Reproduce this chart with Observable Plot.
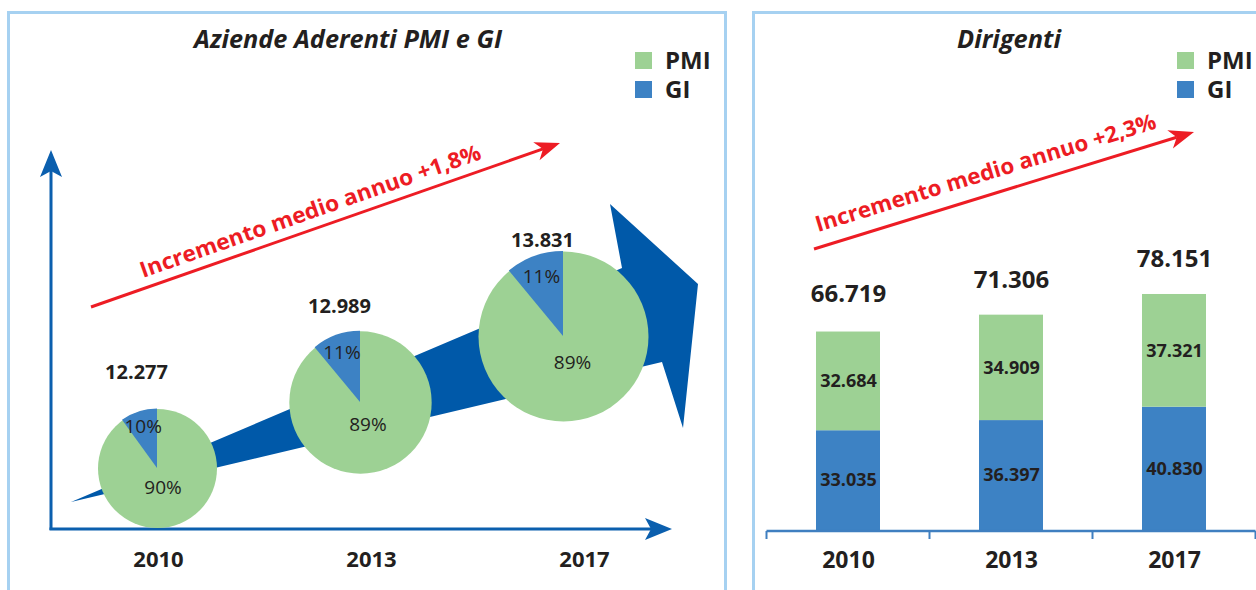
<!DOCTYPE html>
<html>
<head>
<meta charset="utf-8">
<script src="https://cdn.jsdelivr.net/npm/d3@7"></script>
<script src="https://cdn.jsdelivr.net/npm/@observablehq/plot@0.6"></script>
<style>
html, body { margin: 0; padding: 0; background: #fff; }
#wrap { position: relative; width: 1256px; height: 590px; overflow: hidden; background: #fff; }
#wrap svg { position: absolute; left: 0; top: 0; }
.frame { position: absolute; border: 3px solid #a6d1f1; box-sizing: border-box; }
</style>
</head>
<body>
<div id="wrap">
  <div class="frame" style="left:7px;top:11px;width:720px;height:620px;"></div>
  <div class="frame" style="left:752px;top:11px;width:620px;height:620px;"></div>
</div>
<script>
// ---------- DATA ----------
const years = ["2010", "2013", "2017"];
const aziendeTotale = [12277, 12989, 13831];
const aziendeQuotaGI = [10, 11, 11];
const aziendeQuotaPMI = [90, 89, 89];
const dirigentiGI = [33035, 36397, 40830];
const dirigentiPMI = [32684, 34909, 37321];
const dirigentiTotale = [66719, 71306, 78151];
const series = ["PMI", "GI"];
const seriesColors = ["#9dd194", "#3d82c4"];
const titoli = ["Aziende Aderenti PMI e GI", "Dirigenti"];
const incrementi = ["Incremento medio annuo +1,8%", "Incremento medio annuo +2,3%"];

// ---------- HELPERS ----------
const FONT = "'Open Sans','Noto Sans',sans-serif";
const INK = "#231f20";
const RED = "#ed1c24";
const W = 1256, H = 590;
const fmtIt = d3.formatLocale({decimal: ",", thousands: ".", grouping: [3], currency: ["€", ""]}).format(",d");
const wrap = document.getElementById("wrap");

function addText(g, txt, o) {
  const t = g.append("text")
    .attr("font-family", FONT)
    .attr("fill", o.fill || INK)
    .attr("font-size", o.size)
    .attr("font-weight", o.weight || "bold")
    .attr("text-anchor", o.anchor || "start")
    .text(txt);
  if (o.italic) t.attr("font-style", "italic");
  if (o.transform) t.attr("transform", o.transform); else t.attr("x", o.x).attr("y", o.y);
  if (o.length) t.attr("textLength", o.length).attr("lengthAdjust", "spacingAndGlyphs");
  return t;
}

function legend(g, x, y0) {
  series.forEach((s, i) => {
    const y = y0 + i * 29;
    g.append("rect").attr("x", x).attr("y", y).attr("width", 17).attr("height", 17).attr("fill", seriesColors[i]);
    addText(g, s, {x: x + 30, y: y + 17, size: 24});
  });
}

function redArrow(g, x1, y1, x2, y2, label, tr, len) {
  const a = Math.atan2(y2 - y1, x2 - x1);
  const ux = Math.cos(a), uy = Math.sin(a), px = -uy, py = ux;
  const bx = x2 - 25 * ux, by = y2 - 25 * uy;
  const nx = x2 - 18 * ux, ny = y2 - 18 * uy;
  g.append("line").attr("x1", x1).attr("y1", y1).attr("x2", nx).attr("y2", ny)
    .attr("stroke", RED).attr("stroke-width", 3);
  g.append("path").attr("fill", RED)
    .attr("d", `M${x2},${y2}L${bx + 9.5 * px},${by + 9.5 * py}L${nx},${ny}L${bx - 9.5 * px},${by - 9.5 * py}Z`);
  addText(g, label, {transform: tr, size: 22, fill: RED, length: len});
}

// ---------- LEFT PANEL: background (arrows, axis, labels) ----------
function decorLeft() {
  const g = d3.create("svg:g");
  addText(g, titoli[0], {x: 348, y: 48, size: 25, italic: true, anchor: "middle", length: 308});
  legend(g, 635, 52);
  // big growth arrow
  g.append("path").attr("fill", "#0059a9")
    .attr("d", "M71,502L622,268L610,204L698,284L683,428L662,362Z");
  // axes with arrowheads
  const AX = "#0b5fae";
  g.append("line").attr("x1", 51).attr("y1", 530).attr("x2", 51).attr("y2", 170).attr("stroke", AX).attr("stroke-width", 3);
  g.append("path").attr("fill", AX).attr("d", "M51,150L62,177L51,171L40,177Z");
  g.append("line").attr("x1", 49.5).attr("y1", 529).attr("x2", 652).attr("y2", 529).attr("stroke", AX).attr("stroke-width", 3);
  g.append("path").attr("fill", AX).attr("d", "M672,529L645,518L651,529L645,540Z");
  redArrow(g, 91, 307, 560, 143, incrementi[0], "translate(143,278) rotate(-19.35)", 360);
  return g.node();
}

const leftBack = Plot.plot({
  width: W, height: H, margin: 0, marginBottom: 24,
  style: {background: "transparent"},
  x: {type: "point", domain: years, range: [157, 584], padding: 0, axis: null},
  marks: [
    decorLeft,
    Plot.text(years, {x: d => d, frameAnchor: "bottom", lineAnchor: "bottom", text: d => d,
      fontSize: 22, fontWeight: "bold", fill: INK, fontFamily: FONT})
  ]
});
leftBack.style.background = "transparent";
wrap.appendChild(leftBack);

// ---------- LEFT PANEL: pies ----------
const pieData = years.map((y, i) => ({anno: y, totale: aziendeTotale[i], gi: aziendeQuotaGI[i], pmi: aziendeQuotaPMI[i]}));
const rFallback = d3.scaleLinear([12277, 13831], [59.5, 85]);

function pieSlices(index, scales) {
  const g = d3.create("svg:g");
  const rs = scales && scales.r ? scales.r : rFallback;
  for (const d of pieData) {
    const cx = scales.x(d.anno), cy = scales.y(d.anno), r = rs(d.totale);
    const a = d.gi / 100 * 2 * Math.PI;
    g.append("path")
      .attr("transform", `translate(${cx},${cy})`)
      .attr("fill", seriesColors[1])
      .attr("d", d3.arc()({innerRadius: 0, outerRadius: r, startAngle: -a, endAngle: 0}));
    const ag = -a / 2, rg = 0.75 * r;
    addText(g, d.gi + "%", {x: cx + rg * Math.sin(ag), y: cy - rg * Math.cos(ag) + 7, size: 19, weight: "normal", anchor: "middle"});
    const ap = Math.PI - a / 2, rp = 0.33 * r;
    addText(g, d.pmi + "%", {x: cx + rp * Math.sin(ap), y: cy - rp * Math.cos(ap) + 7, size: 19, weight: "normal", anchor: "middle"});
  }
  return g.node();
}

const leftPies = Plot.plot({
  width: W, height: H, margin: 0,
  style: {background: "transparent"},
  x: {type: "point", domain: years, range: [156.5, 562.5], padding: 0, axis: null},
  y: {type: "point", domain: years, range: [468, 336], padding: 0, axis: null},
  r: {type: "linear", domain: [12277, 13831], range: [59.5, 85]},
  marks: [
    Plot.dot(pieData, {x: "anno", y: "anno", r: "totale", fill: seriesColors[0]}),
    pieSlices,
    Plot.text(pieData, {x: "anno", y: "anno", text: d => fmtIt(d.totale), dx: -21, dy: -90,
      lineAnchor: "bottom", fontSize: 20, fontWeight: "bold", fill: INK, fontFamily: FONT})
  ]
});
leftPies.style.background = "transparent";
wrap.appendChild(leftPies);

// ---------- RIGHT PANEL: stacked bars ----------
const stackData = [];
years.forEach((y, i) => {
  stackData.push({anno: y, serie: "GI", valore: dirigentiGI[i]});
  stackData.push({anno: y, serie: "PMI", valore: dirigentiPMI[i]});
});
const totData = years.map((y, i) => ({anno: y, totale: dirigentiTotale[i]}));

function decorRight(index, scales) {
  const g = d3.create("svg:g");
  addText(g, titoli[1], {x: 1009, y: 48, size: 25, italic: true, anchor: "middle", length: 104});
  legend(g, 1177, 52);
  redArrow(g, 814, 249, 1194, 132, incrementi[1], "translate(818,232) rotate(-17)", 355);
  // baseline axis with band-boundary ticks
  const x = scales.x, y0 = scales.y(0) + 1;
  const step = x.step ? x.step() : 163.33, bw = x.bandwidth ? x.bandwidth() : 64;
  const edges = years.map(yr => x(yr) - (step - bw) / 2);
  edges.push(edges[edges.length - 1] + step);
  g.append("line").attr("x1", edges[0]).attr("x2", edges[edges.length - 1]).attr("y1", y0).attr("y2", y0)
    .attr("stroke", "#3f7fc0").attr("stroke-width", 2.5);
  for (const e of edges) {
    g.append("line").attr("x1", e).attr("x2", e).attr("y1", y0).attr("y2", y0 + 8)
      .attr("stroke", "#3f7fc0").attr("stroke-width", 2);
  }
  return g.node();
}

const right = Plot.plot({
  width: W, height: H, margin: 0, marginBottom: 23,
  style: {background: "transparent"},
  x: {type: "band", domain: years, range: [766, 1256], paddingInner: 0.608, paddingOuter: 0.304, axis: null},
  y: {domain: [0, 100000], range: [530, 228], axis: null},
  color: {domain: series, range: seriesColors},
  marks: [
    Plot.barY(stackData, {x: "anno", y: "valore", fill: "serie", z: "serie"}),
    decorRight,
    Plot.text(stackData, Plot.stackY({x: "anno", y: "valore", z: "serie", text: d => fmtIt(d.valore),
      fontSize: 18, fontWeight: "bold", fill: INK, fontFamily: FONT})),
    Plot.text(totData, {x: "anno", y: "totale", text: d => fmtIt(d.totale), dy: -27, lineAnchor: "bottom",
      fontSize: 24, fontWeight: "bold", fill: INK, fontFamily: FONT}),
    Plot.text(years, {x: d => d, frameAnchor: "bottom", lineAnchor: "bottom", text: d => d,
      fontSize: 23, fontWeight: "bold", fill: INK, fontFamily: FONT})
  ]
});
right.style.background = "transparent";
wrap.appendChild(right);
</script>
</body>
</html>
